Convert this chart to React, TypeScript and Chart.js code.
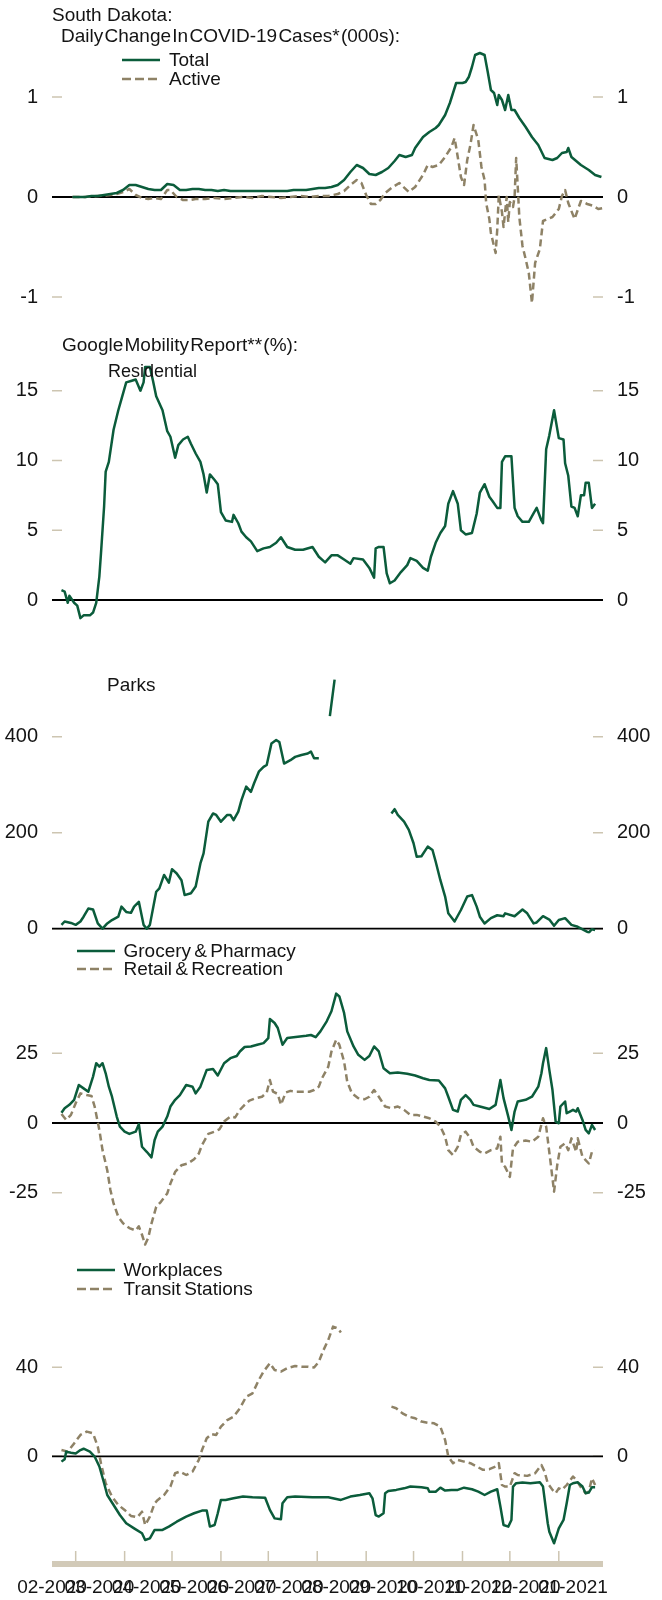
import React, { useEffect, useRef } from "react";
import { Chart, registerables } from "chart.js";

Chart.register(...registerables);

const FONT = '"Liberation Sans", Arial, Helvetica, sans-serif';
const INK = "#141414";
const GREEN = "#0b5c3b";
const TAN = "#8e8266";
const TICK_TAN = "#cdc5b1";
const BAND_TAN = "#d2cab8";

// ---- x axis (days since 2020-02-15) ----
const X_START = "2020-02-15";
const X_END = "2021-01-29";
const MONTH_LABELS = ["02-2020", "03-2020", "04-2020", "05-2020", "06-2020", "07-2020", "08-2020", "09-2020", "10-2020", "11-2020", "12-2020", "01-2021"];
const MONTH_LABEL_DATES = ["2020-02-15", "2020-03-16", "2020-04-15", "2020-05-15", "2020-06-14", "2020-07-14", "2020-08-13", "2020-09-12", "2020-10-12", "2020-11-11", "2020-12-11", "2021-01-10"];
const MONTH_START_DATES = ["2020-03-01", "2020-04-01", "2020-05-01", "2020-06-01", "2020-07-01", "2020-08-01", "2020-09-01", "2020-10-01", "2020-11-01", "2020-12-01", "2021-01-01"];

// ---- Daily change in COVID-19 cases (000s) ----
const TOTAL_DAYS = [13, 17, 21, 25, 29, 33, 37, 41, 45, 49, 53, 57, 61, 65, 69, 73, 77, 81, 85, 89, 93, 97, 101, 105, 109, 113, 117, 121, 125, 129, 133, 137, 141, 145, 149, 153, 157, 161, 165, 169, 173, 177, 181, 185, 189, 193, 197, 201, 205, 209, 213, 217, 220, 224, 228, 230, 235, 239, 243, 245, 247, 249, 252, 254, 256, 260, 262, 264, 266, 268, 271, 274, 276, 278, 280, 282, 283, 285, 287, 289, 291, 293, 296, 300, 304, 308, 312, 317, 320, 323, 326, 327, 329, 335, 340, 344, 348];
const TOTAL = [0.0, 0.0, 0.0, 0.01, 0.01, 0.02, 0.03, 0.04, 0.07, 0.12, 0.12, 0.1, 0.08, 0.07, 0.07, 0.13, 0.12, 0.07, 0.07, 0.08, 0.08, 0.07, 0.07, 0.06, 0.07, 0.06, 0.06, 0.06, 0.06, 0.06, 0.06, 0.06, 0.06, 0.06, 0.06, 0.07, 0.07, 0.07, 0.08, 0.09, 0.09, 0.1, 0.12, 0.17, 0.25, 0.32, 0.29, 0.23, 0.22, 0.25, 0.29, 0.36, 0.42, 0.4, 0.42, 0.49, 0.6, 0.65, 0.69, 0.72, 0.77, 0.82, 0.94, 1.04, 1.14, 1.14, 1.15, 1.2, 1.3, 1.42, 1.44, 1.42, 1.25, 1.07, 1.04, 0.92, 1.02, 0.97, 0.87, 1.02, 0.87, 0.87, 0.79, 0.7, 0.6, 0.52, 0.39, 0.37, 0.39, 0.44, 0.45, 0.49, 0.4, 0.32, 0.27, 0.22, 0.2];
const ACTIVE_DAYS = [13, 21, 29, 37, 41, 45, 49, 53, 57, 61, 65, 69, 73, 75, 79, 83, 87, 91, 97, 103, 109, 115, 121, 127, 133, 139, 145, 151, 157, 163, 169, 175, 181, 185, 189, 193, 196, 199, 202, 205, 208, 211, 215, 220, 226, 230, 235, 238, 241, 245, 249, 253, 255, 257, 259, 261, 263, 265, 267, 270, 272, 274, 275, 277, 278, 281, 282, 283, 285, 286, 288, 289, 290, 292, 293, 294, 295, 296, 298, 300, 302, 304, 306, 309, 311, 314, 317, 321, 323, 325, 327, 331, 335, 339, 343, 346, 349];
const ACTIVE = [0.0, 0.0, 0.01, 0.02, 0.03, 0.05, 0.08, 0.02, -0.01, -0.02, -0.01, -0.02, 0.07, 0.07, 0.0, -0.03, -0.03, -0.02, -0.02, -0.01, -0.02, -0.01, 0.0, -0.01, 0.01, 0.0, -0.01, 0.0, 0.01, 0.0, 0.01, 0.01, 0.03, 0.06, 0.12, 0.17, 0.14, 0.02, -0.07, -0.07, -0.03, 0.04, 0.09, 0.14, 0.05, 0.1, 0.22, 0.32, 0.3, 0.32, 0.4, 0.5, 0.59, 0.4, 0.2, 0.12, 0.37, 0.52, 0.72, 0.57, 0.3, 0.17, -0.06, -0.22, -0.36, -0.56, -0.33, 0.02, -0.15, -0.3, 0.0, -0.25, -0.05, -0.1, 0.0, 0.39, 0.1, -0.2, -0.49, -0.62, -0.76, -1.06, -0.66, -0.52, -0.24, -0.22, -0.2, -0.12, 0.01, 0.07, -0.06, -0.22, -0.04, -0.07, -0.09, -0.12, -0.11];

// ---- Google mobility: residential (%) ----
const RES_DAYS = [6, 8, 10, 11, 14, 16, 18, 20, 24, 26, 28, 30, 31, 33, 34, 36, 39, 42, 44, 47, 50, 53, 56, 58, 59, 62, 64, 66, 70, 73, 75, 78, 80, 83, 86, 88, 91, 94, 96, 98, 100, 103, 105, 107, 110, 114, 115, 118, 120, 123, 126, 130, 134, 138, 142, 145, 149, 154, 159, 165, 169, 173, 177, 181, 185, 189, 191, 197, 201, 204, 205, 207, 210, 212, 214, 217, 221, 225, 227, 231, 235, 238, 240, 243, 246, 249, 251, 254, 257, 259, 262, 266, 269, 271, 274, 277, 279, 282, 284, 285, 287, 291, 293, 295, 298, 302, 305, 307, 310, 311, 313, 315, 318, 321, 324, 325, 327, 329, 331, 333, 335, 337, 338, 340, 342, 344];
const RESIDENTIAL = [0.7, 0.6, -0.2, 0.3, -0.2, -0.4, -1.3, -1.1, -1.1, -0.9, -0.2, 1.7, 3.3, 6.7, 9.2, 9.9, 12.2, 13.6, 14.4, 15.6, 15.7, 15.8, 15.0, 15.6, 16.7, 16.7, 15.7, 14.6, 13.6, 12.1, 11.7, 10.2, 11.1, 11.5, 11.7, 11.2, 10.5, 9.9, 9.0, 7.7, 9.0, 8.6, 8.3, 6.3, 5.7, 5.6, 6.1, 5.5, 4.9, 4.5, 4.2, 3.5, 3.7, 3.8, 4.1, 4.5, 3.8, 3.6, 3.6, 3.8, 3.1, 2.7, 3.2, 3.2, 2.9, 2.6, 3.0, 2.9, 2.3, 1.6, 3.7, 3.8, 3.8, 1.9, 1.2, 1.4, 2.0, 2.5, 3.0, 2.8, 2.3, 2.1, 3.1, 4.1, 4.8, 5.3, 6.9, 7.8, 6.9, 5.0, 4.7, 4.8, 6.2, 7.7, 8.3, 7.4, 7.1, 6.6, 6.6, 9.9, 10.3, 10.3, 6.6, 6.0, 5.6, 5.6, 6.2, 6.6, 5.7, 5.5, 10.8, 11.8, 13.6, 11.6, 11.5, 9.8, 8.9, 6.7, 6.6, 6.0, 7.5, 7.5, 8.4, 8.4, 6.6, 6.9];

// ---- Google mobility: parks (%) ----
const PARKS_DAYS = [6, 8, 12, 15, 18, 20, 23, 26, 29, 32, 35, 38, 42, 44, 47, 50, 52, 55, 58, 60, 62, 66, 68, 71, 74, 76, 79, 82, 84, 88, 91, 94, 96, 99, 102, 104, 107, 111, 113, 115, 118, 120, 123, 126, 128, 131, 134, 136, 139, 142, 144, 147, 151, 154, 158, 162, 164, 166, 169, 172, 176, 179, 190, 215, 217, 219, 223, 226, 229, 231, 234, 238, 241, 243, 246, 249, 251, 255, 259, 263, 266, 269, 271, 274, 278, 282, 286, 287, 293, 298, 301, 305, 307, 311, 315, 318, 321, 325, 329, 333, 337, 340, 342, 344];
const PARKS = [8, 15, 12, 8, 15, 25, 42, 40, 11, 0, 11, 18, 25, 46, 35, 33, 46, 56, 8, 0, 8, 77, 84, 112, 96, 124, 115, 101, 70, 74, 88, 136, 157, 223, 240, 237, 223, 237, 237, 226, 244, 268, 296, 285, 303, 327, 337, 341, 386, 393, 389, 344, 351, 358, 362, 365, 369, 355, 355, null, 443, 519, null, 240, 249, 237, 223, 206, 178, 150, 151, 171, 164, 140, 101, 67, 32, 15, 39, 67, 70, 46, 25, 11, 22, 28, 26, 32, 26, 40, 32, 11, 13, 26, 19, 6, 18, 22, 8, 4, -3, -8, -1, -3];

// ---- Google mobility: grocery & pharmacy, retail & recreation (%) ----
const GROCERY_DAYS = [6, 8, 11, 14, 17, 20, 23, 26, 28, 30, 32, 34, 36, 38, 41, 43, 46, 49, 53, 55, 57, 60, 63, 65, 67, 70, 73, 75, 78, 81, 85, 89, 91, 94, 98, 102, 105, 109, 113, 117, 119, 122, 126, 130, 134, 137, 138, 141, 143, 146, 149, 153, 157, 161, 164, 167, 170, 174, 177, 180, 182, 185, 187, 191, 194, 198, 201, 204, 207, 210, 214, 219, 225, 230, 235, 239, 245, 249, 251, 254, 257, 259, 262, 265, 267, 271, 277, 281, 284, 286, 289, 291, 293, 295, 300, 304, 308, 310, 311, 313, 315, 317, 319, 321, 322, 325, 326, 328, 330, 332, 333, 336, 338, 340, 342, 344];
const GROCERY = [3.7, 5.3, 6.5, 8.3, 13.6, 12.4, 11.2, 16.6, 21.4, 20.2, 21.4, 17.8, 13.0, 9.4, 2.3, -1.3, -3.1, -3.9, -3.1, -0.4, -8.5, -10.3, -12.3, -6.1, -3.1, -1.3, 2.3, 5.9, 8.3, 10.0, 13.6, 13.0, 10.6, 13.0, 19.0, 19.3, 17.0, 21.4, 23.2, 24.0, 25.6, 27.2, 27.4, 28.0, 28.6, 30.4, 37.2, 35.8, 34.0, 28.0, 30.4, 30.7, 31.0, 31.2, 31.5, 30.7, 32.8, 36.4, 40.0, 46.3, 45.3, 39.4, 32.8, 27.4, 24.4, 22.6, 24.0, 27.4, 25.6, 19.6, 17.8, 18.1, 17.6, 17.0, 16.0, 15.4, 15.2, 12.4, 9.4, 4.7, 4.1, 8.3, 10.0, 8.3, 6.5, 5.9, 5.0, 6.5, 15.4, 8.9, 2.3, -2.5, 4.1, 7.7, 8.3, 9.4, 13.0, 17.8, 21.4, 26.8, 19.0, 11.8, 0.5, -0.1, 5.9, 7.7, 3.5, 4.1, 4.7, 4.1, 5.3, 1.1, -2.5, -3.7, -0.7, -2.5];
const RETAIL_DAYS = [6, 9, 12, 15, 18, 22, 25, 27, 30, 32, 35, 37, 39, 42, 45, 49, 53, 55, 57, 59, 61, 63, 66, 69, 73, 75, 78, 82, 86, 90, 93, 95, 99, 103, 106, 109, 113, 116, 119, 122, 125, 129, 133, 136, 138, 140, 143, 145, 148, 151, 155, 159, 163, 166, 169, 171, 175, 177, 180, 182, 185, 187, 190, 194, 198, 201, 204, 207, 211, 215, 219, 223, 227, 231, 235, 239, 243, 246, 249, 251, 254, 257, 259, 262, 265, 267, 271, 274, 278, 282, 284, 285, 287, 290, 292, 295, 300, 304, 308, 311, 313, 316, 318, 320, 322, 325, 327, 329, 332, 333, 336, 340, 342, 344];
const RETAIL = [3.2, 1.1, 2.9, 7.1, 10.6, 10.0, 9.7, 5.9, -2.5, -9.7, -16.9, -24.0, -28.8, -33.6, -35.9, -37.6, -38.5, -37.0, -40.0, -43.5, -41.0, -36.0, -30.0, -28.2, -25.2, -21.7, -17.5, -15.1, -14.5, -13.0, -10.9, -7.9, -3.9, -3.1, -2.3, 0.5, 2.3, 2.0, 4.7, 6.5, 8.0, 8.9, 9.4, 10.9, 15.4, 11.2, 10.4, 6.5, 10.9, 11.5, 11.2, 11.2, 11.2, 11.8, 13.0, 16.0, 20.2, 25.6, 29.8, 28.0, 22.0, 14.8, 10.6, 8.9, 8.5, 9.4, 11.8, 9.4, 5.9, 5.3, 5.9, 4.7, 2.9, 2.9, 2.3, 1.7, 0.5, -1.3, -4.9, -9.7, -11.5, -8.5, -4.3, -3.1, -5.5, -8.5, -10.3, -10.9, -9.7, -9.1, -4.9, -14.5, -15.7, -19.3, -9.1, -6.7, -6.3, -6.7, -4.9, 1.7, -1.3, -15.1, -24.6, -15.1, -8.5, -7.3, -9.7, -5.5, -10.3, -5.5, -12.1, -14.5, -10.3, -9.7];

// ---- Google mobility: workplaces, transit stations (%) ----
const WORK_DAYS = [6, 8, 9, 12, 15, 18, 20, 24, 27, 30, 33, 35, 39, 43, 47, 52, 57, 59, 62, 65, 70, 74, 79, 85, 90, 95, 98, 100, 103, 105, 107, 110, 115, 121, 127, 135, 138, 141, 145, 146, 149, 154, 165, 175, 183, 189, 195, 201, 203, 205, 207, 210, 211, 213, 218, 223, 227, 234, 238, 239, 243, 246, 249, 253, 257, 261, 266, 270, 274, 278, 282, 284, 286, 289, 291, 292, 294, 298, 303, 309, 311, 314, 315, 318, 321, 324, 326, 328, 330, 333, 336, 338, 340, 342, 344];
const WORKPLACES = [-2.4, -1.3, 2.1, 1.6, 1.3, 2.8, 3.4, 2.1, -0.1, -4.6, -12.1, -17.4, -21.9, -26.4, -30.1, -32.4, -34.6, -37.6, -36.9, -33.1, -33.1, -31.6, -29.4, -27.1, -25.6, -24.4, -24.4, -31.6, -30.9, -25.6, -19.6, -19.6, -18.9, -18.1, -18.4, -18.6, -24.1, -27.9, -28.3, -21.1, -18.4, -18.1, -18.4, -18.4, -19.6, -18.1, -17.4, -16.6, -18.9, -26.4, -27.1, -25.6, -16.6, -15.6, -15.1, -14.4, -13.6, -13.9, -14.4, -15.9, -15.9, -14.1, -15.4, -15.1, -15.1, -14.1, -14.8, -15.9, -17.4, -15.9, -14.8, -22.6, -30.9, -31.6, -28.6, -13.6, -12.1, -11.8, -12.1, -11.7, -13.6, -30.1, -33.9, -39.1, -32.4, -28.6, -21.1, -12.9, -12.1, -11.7, -13.6, -16.6, -16.3, -13.9, -13.9];
const TRANSIT_DAYS = [6, 10, 14, 18, 22, 26, 29, 31, 34, 38, 42, 46, 50, 54, 57, 59, 62, 65, 67, 71, 75, 78, 81, 85, 89, 93, 95, 98, 101, 104, 107, 111, 115, 119, 123, 127, 131, 134, 138, 141, 145, 149, 154, 158, 162, 166, 169, 172, 175, 178, 181, 183, 190, 215, 218, 222, 226, 230, 234, 238, 242, 246, 249, 251, 254, 257, 261, 265, 269, 273, 277, 281, 283, 285, 287, 290, 293, 295, 301, 306, 310, 312, 314, 317, 319, 321, 323, 326, 330, 332, 335, 338, 340, 342, 344];
const TRANSIT = [2.8, 2.1, 5.8, 9.6, 11.1, 10.3, 4.3, -3.1, -12.1, -18.1, -21.9, -24.1, -26.8, -27.4, -24.9, -30.9, -27.1, -21.1, -19.6, -17.4, -13.6, -7.6, -6.9, -8.4, -6.9, -1.6, 2.8, 8.1, 10.0, 9.6, 13.3, 16.3, 17.8, 21.6, 26.8, 28.3, 34.3, 38.1, 41.8, 38.8, 38.1, 39.6, 40.6, 40.3, 40.3, 39.9, 42.5, 47.8, 52.3, 58.3, 57.5, 55.6, null, 22.3, 21.6, 19.3, 17.8, 17.1, 15.6, 15.1, 14.8, 13.3, 7.3, -0.1, -3.1, -1.6, -2.4, -3.1, -4.6, -6.1, -5.8, -4.6, -3.1, -12.9, -13.6, -13.6, -7.6, -8.4, -8.8, -7.6, -3.9, -6.9, -12.1, -15.1, -16.6, -14.4, -15.1, -12.9, -9.1, -10.6, -13.9, -16.6, -15.9, -9.9, -12.9];

// ---- y ticks per panel ----
const CASES_TICKS = [-1, 0, 1];
const RES_TICKS = [0, 5, 10, 15];
const PARKS_TICKS = [0, 200, 400];
const SHOP_TICKS = [-25, 0, 25];
const WORK_TICKS = [0, 40];

const DAY_MS = 86400000;
function dayOf(iso: string): number {
  return Math.round((Date.parse(iso + "T00:00:00Z") - Date.parse(X_START + "T00:00:00Z")) / DAY_MS);
}
const X_MAX = dayOf(X_END);
const LABEL_DAYS = MONTH_LABEL_DATES.map(dayOf);
const MONTH_START_DAYS = MONTH_START_DATES.map(dayOf);

function pts(days: number[], vals: (number | null)[]) {
  return days.map((d, i) => ({ x: d, y: vals[i] }));
}

function lineDs(days: number[], vals: (number | null)[], dashed: boolean) {
  return {
    data: pts(days, vals),
    borderColor: dashed ? TAN : GREEN,
    borderWidth: 2.5,
    borderDash: dashed ? [7, 4] : [],
    pointRadius: 0,
    tension: 0,
    spanGaps: false,
    fill: false,
    borderJoinStyle: "round",
  };
}

function makeDecor(withAxis: boolean) {
  return {
    id: "decor",
    beforeDatasetsDraw(chart: any) {
      const { ctx, chartArea } = chart;
      const { left, right, bottom } = chartArea;
      const y = chart.scales.y;
      ctx.save();
      ctx.lineWidth = 1.5;
      ctx.strokeStyle = TICK_TAN;
      for (const t of y.ticks) {
        const py = y.getPixelForValue(t.value);
        ctx.beginPath();
        ctx.moveTo(left, py);
        ctx.lineTo(left + 10, py);
        ctx.moveTo(right - 10, py);
        ctx.lineTo(right, py);
        ctx.stroke();
      }
      if (withAxis) {
        const x = chart.scales.x;
        ctx.fillStyle = BAND_TAN;
        ctx.fillRect(left, bottom, right - left, 6);
        ctx.strokeStyle = TICK_TAN;
        ctx.lineWidth = 1.5;
        for (const d of MONTH_START_DAYS) {
          const px = x.getPixelForValue(d);
          ctx.beginPath();
          ctx.moveTo(px, bottom - 10);
          ctx.lineTo(px, bottom);
          ctx.stroke();
        }
      }
      const zy = y.getPixelForValue(0);
      ctx.strokeStyle = "#000";
      ctx.lineWidth = 1.8;
      ctx.beginPath();
      ctx.moveTo(left, zy);
      ctx.lineTo(right, zy);
      ctx.stroke();
      ctx.restore();
    },
  };
}

type PanelProps = {
  top: number;
  height: number;
  padTop: number;
  padBottom: number;
  yMin: number;
  yMax: number;
  yTicks: number[];
  datasets: any[];
  xAxis?: boolean;
};

function Panel(p: PanelProps) {
  const ref = useRef<HTMLCanvasElement | null>(null);
  useEffect(() => {
    if (!ref.current) return;
    const tickFont = { family: FONT, size: 20 };
    const yCommon = (pos: "left" | "right") => ({
      type: "linear",
      position: pos,
      min: p.yMin,
      max: p.yMax,
      grid: { display: false, drawTicks: false },
      border: { display: false },
      ticks: { padding: 14, color: INK, font: tickFont },
      afterBuildTicks: (s: any) => {
        s.ticks = p.yTicks.map((v) => ({ value: v }));
      },
      afterFit: (s: any) => {
        s.width = pos === "left" ? 52 : 59;
      },
    });
    const xScale: any = {
      type: "linear",
      min: 0,
      max: X_MAX,
      display: !!p.xAxis,
      grid: { display: false, drawTicks: false },
      border: { display: false },
      ticks: {
        autoSkip: false,
        maxRotation: 0,
        minRotation: 0,
        padding: 15,
        color: INK,
        font: { family: FONT, size: 19 },
        callback: (_v: any, i: number) => MONTH_LABELS[i],
      },
      afterBuildTicks: (s: any) => {
        s.ticks = LABEL_DAYS.map((v) => ({ value: v }));
      },
    };
    if (p.xAxis) {
      xScale.afterFit = (s: any) => {
        s.height = 39;
      };
    }
    const chart = new Chart(ref.current, {
      type: "line",
      data: { datasets: p.datasets },
      options: {
        animation: false,
        responsive: false,
        maintainAspectRatio: false,
        devicePixelRatio: 1,
        events: [],
        layout: { padding: { top: p.padTop, bottom: p.xAxis ? 0 : p.padBottom, left: 0, right: 0 } },
        plugins: { legend: { display: false }, tooltip: { enabled: false } },
        scales: {
          x: xScale,
          y: yCommon("left"),
          y2: yCommon("right"),
        },
      } as any,
      plugins: [makeDecor(!!p.xAxis)],
    } as any);
    return () => chart.destroy();
  }, []);
  return (
    <canvas
      ref={ref}
      width={662}
      height={p.height}
      style={{ position: "absolute", left: 0, top: p.top, width: 662, height: p.height }}
    />
  );
}

function Txt(props: { left: number; cy: number; size?: number; ws?: number; children: any }) {
  return (
    <div
      style={{
        position: "absolute",
        left: props.left,
        top: props.cy - 11,
        height: 22,
        lineHeight: "22px",
        fontSize: props.size ?? 19,
        fontFamily: FONT,
        color: INK,
        whiteSpace: "nowrap",
        wordSpacing: props.ws ?? 0,
      }}
    >
      {props.children}
    </div>
  );
}

function LegendItem(props: { left: number; cy: number; dashed: boolean; label: string; textLeft: number }) {
  return (
    <>
      <svg
        width={38}
        height={6}
        style={{ position: "absolute", left: props.left, top: props.cy - 3 }}
      >
        <line
          x1={0}
          y1={3}
          x2={38}
          y2={3}
          stroke={props.dashed ? TAN : GREEN}
          strokeWidth={2.5}
          strokeDasharray={props.dashed ? "9 4" : undefined}
        />
      </svg>
      <Txt left={props.textLeft} cy={props.cy} ws={-2}>
        {props.label}
      </Txt>
    </>
  );
}

export default function App() {
  return (
    <div
      style={{
        position: "absolute",
        left: 0,
        top: 0,
        width: 662,
        height: 1600,
        background: "#fff",
        overflow: "hidden",
      }}
    >
      <Panel
        top={0}
        height={340}
        padTop={47}
        padBottom={33}
        yMin={-1.1}
        yMax={1.5}
        yTicks={CASES_TICKS}
        datasets={[lineDs(TOTAL_DAYS, TOTAL, false), lineDs(ACTIVE_DAYS, ACTIVE, true)]}
      />
      <Panel
        top={320}
        height={340}
        padTop={42.8}
        padBottom={32.1}
        yMin={-2}
        yMax={17}
        yTicks={RES_TICKS}
        datasets={[lineDs(RES_DAYS, RESIDENTIAL, false)]}
      />
      <Panel
        top={630}
        height={340}
        padTop={39.5}
        padBottom={36.5}
        yMin={-10}
        yMax={540}
        yTicks={PARKS_TICKS}
        datasets={[lineDs(PARKS_DAYS, PARKS, false)]}
      />
      <Panel
        top={950}
        height={340}
        padTop={38.9}
        padBottom={35.7}
        yMin={-47}
        yMax={48}
        yTicks={SHOP_TICKS}
        datasets={[lineDs(GROCERY_DAYS, GROCERY, false), lineDs(RETAIL_DAYS, RETAIL, true)]}
      />
      <Panel
        top={1260}
        height={340}
        padTop={62.8}
        padBottom={0}
        yMin={-47.06}
        yMax={60}
        yTicks={WORK_TICKS}
        xAxis
        datasets={[lineDs(WORK_DAYS, WORKPLACES, false), lineDs(TRANSIT_DAYS, TRANSIT, true)]}
      />

      <Txt left={52} cy={15}>South Dakota:</Txt>
      <Txt left={61} cy={36} ws={-4}>Daily Change In COVID-19 Cases* (000s):</Txt>
      <LegendItem left={122} cy={60} dashed={false} label="Total" textLeft={169} />
      <LegendItem left={122} cy={79} dashed={true} label="Active" textLeft={169} />

      <Txt left={62} cy={345} ws={-4}>Google Mobility Report** (%):</Txt>
      <Txt left={108} cy={371} size={18}>Residential</Txt>
      <Txt left={107} cy={685}>Parks</Txt>

      <LegendItem left={77} cy={951} dashed={false} label="Grocery & Pharmacy" textLeft={123.5} />
      <LegendItem left={77} cy={969} dashed={true} label="Retail & Recreation" textLeft={123.5} />

      <LegendItem left={77} cy={1270} dashed={false} label="Workplaces" textLeft={123.5} />
      <LegendItem left={77} cy={1289} dashed={true} label="Transit Stations" textLeft={123.5} />
    </div>
  );
}
